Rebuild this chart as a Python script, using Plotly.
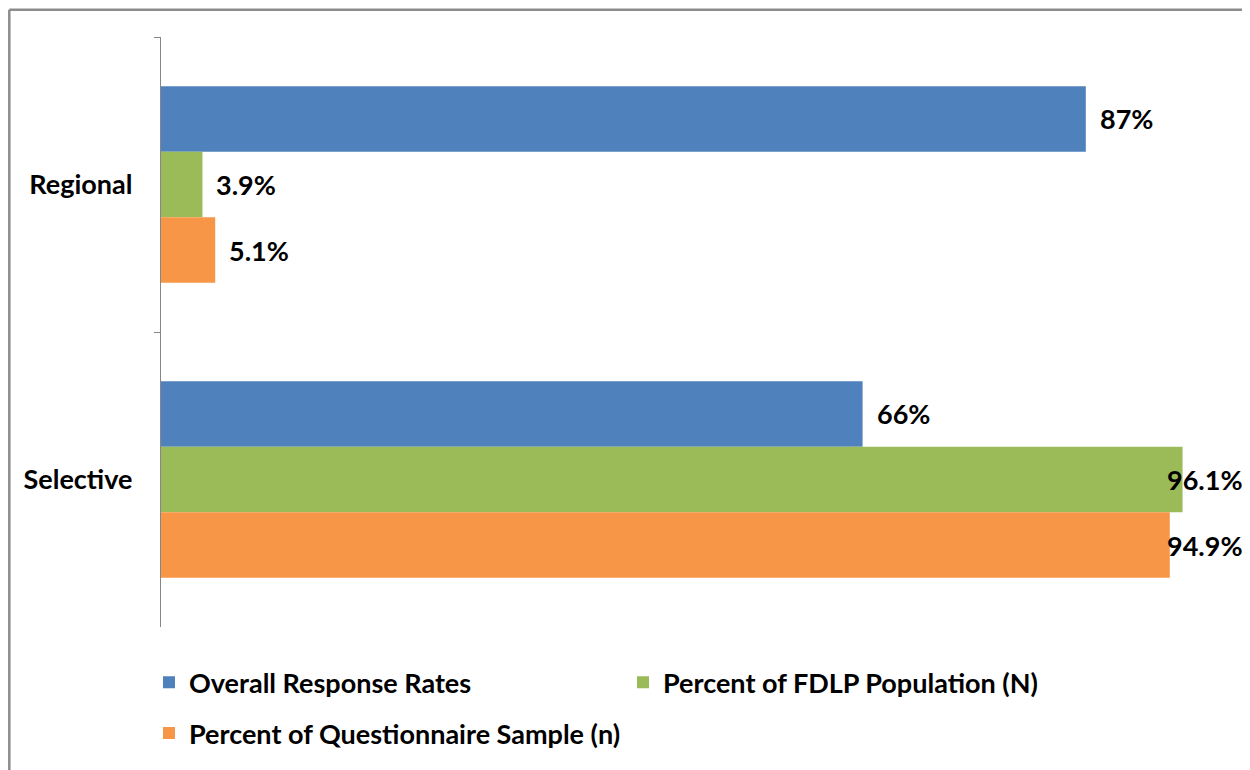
import plotly.graph_objects as go

categories = ["Regional", "Selective"]
series_names = ["Overall Response Rates", "Percent of FDLP Population (N)", "Percent of Questionnaire Sample (n)"]
overall = [87, 66]
fdlp = [3.9, 96.1]
sample = [5.1, 94.9]
label_text = [["87%", "66%"], ["3.9%", "96.1%"], ["5.1%", "94.9%"]]
colors = ["#4F81BD", "#9BBB59", "#F79646"]

# figure is shown with the page's 8px body margin
W, H = 1242, 762
ML, MR, MT, MB = 153, 26, 29, 140
pw, ph = W - ML - MR, H - MT - MB
XMAX = 100
FONT = "Lato"
FS = 27

fig = go.Figure()
legends = ["legend", "legend", "legend2"]
for name, vals, col, lg in zip(series_names, [overall, fdlp, sample], colors, legends):
    fig.add_trace(go.Bar(
        y=categories, x=vals, name=name, orientation="h",
        marker=dict(color=col, line=dict(width=0)),
        hoverinfo="skip", legend=lg,
    ))

# data labels
annotations = []
ngroups = len(series_names)
right_edge_px = W - 5 - ML  # chart-area right edge, in plot pixels
for si, vals in enumerate([overall, fdlp, sample]):
    for ci, v in enumerate(vals):
        band = 1 - 1 / 3
        off = -band / 2 + band / ngroups * (si + 0.5)
        end_px = v / XMAX * pw
        txt = label_text[si][ci]
        approx_w = FS * 0.55 * len(txt)
        if end_px + 12 + approx_w > right_edge_px:
            annotations.append(dict(x=right_edge_px / pw, xref="paper", xanchor="right", y=ci + off, yref="y",
                                    text="<b>" + txt + "</b>", showarrow=False,
                                    font=dict(family=FONT, size=FS, color="#000000")))
        else:
            annotations.append(dict(x=v, xref="x", xanchor="left", xshift=12, y=ci + off, yref="y",
                                    text="<b>" + txt + "</b>", showarrow=False,
                                    font=dict(family=FONT, size=FS, color="#000000")))

# chart-area frame: only the left, top edges are visible in the reference
frame_x0 = (1.3 - ML) / pw
frame_y1 = (MT + ph - 1.5) / ph
frame_y0 = -(H + 20 - (MT + ph)) / ph
frame_x1 = (W + 20 - ML) / pw
shapes = [
    dict(type="line", xref="paper", yref="paper", x0=frame_x0, x1=frame_x0, y0=frame_y0, y1=frame_y1,
         line=dict(color="#8C8C8C", width=2.5), layer="below"),
    dict(type="line", xref="paper", yref="paper", x0=frame_x0, x1=frame_x1, y0=frame_y1, y1=frame_y1,
         line=dict(color="#8C8C8C", width=2.5), layer="below"),
]

legend_font = dict(family=FONT, size=FS, color="#000000", weight="bold")
fig.update_layout(
    width=W, height=H,
    margin=dict(l=ML, r=MR, t=MT, b=MB, pad=0),
    barmode="group", bargap=1 / 3, bargroupgap=0,
    plot_bgcolor="white", paper_bgcolor="white",
    font=dict(family=FONT, size=FS, color="#000000"),
    xaxis=dict(range=[0, XMAX], visible=False, showgrid=False, zeroline=False),
    yaxis=dict(autorange="reversed", showline=True, linecolor="#868686", linewidth=1.3,
               ticks="outside", tickson="boundaries", ticklen=6, tickcolor="#868686",
               tickfont=dict(family=FONT, size=FS, color="#000000", weight="bold"),
               ticklabelstandoff=22, showgrid=False, zeroline=False),
    legend=dict(orientation="h", x=(141 - ML) / pw, xanchor="left", y=(MT + ph - 678) / ph, yanchor="middle",
                entrywidth=429, entrywidthmode="pixels", font=legend_font, traceorder="normal",
                bgcolor="rgba(0,0,0,0)"),
    legend2=dict(orientation="h", x=(141 - ML) / pw, xanchor="left", y=(MT + ph - 729) / ph, yanchor="middle",
                 font=legend_font, bgcolor="rgba(0,0,0,0)"),
    annotations=annotations,
    shapes=shapes,
    showlegend=True,
)

fig.write_html("out.html")
